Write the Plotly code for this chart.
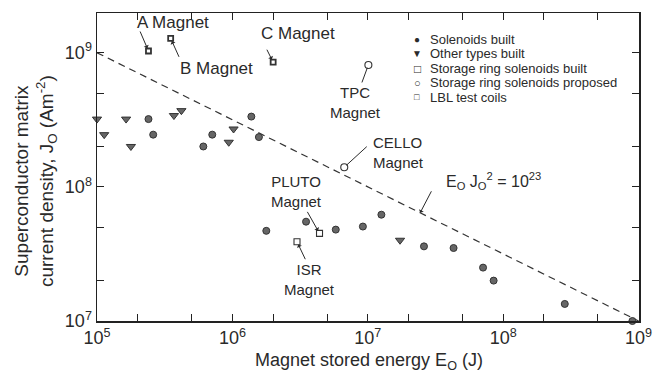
import numpy as np
import plotly.graph_objects as go

# ---------------- data ----------------
sol_E = [2.4e5, 2.6e5, 6.1e5, 7.1e5, 1.38e6, 1.57e6, 1.78e6, 3.5e6, 5.8e6,
         9.2e6, 1.26e7, 2.6e7, 4.3e7, 7.1e7, 8.5e7, 2.85e8, 9.0e8]
sol_J = [3.2e8, 2.45e8, 2.0e8, 2.45e8, 3.34e8, 2.35e8, 4.7e7, 5.5e7, 4.8e7,
         5.06e7, 6.2e7, 3.6e7, 3.5e7, 2.5e7, 2.0e7, 1.34e7, 1.0e7]

oth_E = [1.0e5, 1.13e5, 1.64e5, 1.78e5, 3.7e5, 4.2e5, 9.4e5, 1.02e6, 1.73e7]
oth_J = [3.2e8, 2.45e8, 3.2e8, 2.0e8, 3.4e8, 3.7e8, 2.15e8, 2.7e8, 4.0e7]

ring_names = ["PLUTO", "ISR"]
ring_E = [4.4e6, 3.0e6]
ring_J = [4.5e7, 3.9e7]

prop_names = ["TPC", "CELLO"]
prop_E = [1.01e7, 6.7e6]
prop_J = [8.1e8, 1.4e8]

lbl_names = ["A", "B", "C"]
lbl_E = [2.4e5, 3.5e5, 2.0e6]
lbl_J = [1.03e9, 1.28e9, 8.5e8]

line_const = 1e23            # E0 * J0^2 = 10^23
line_E = [1e5, 1e9]
line_J = [np.sqrt(line_const / e) for e in line_E]

x_decades = [5, 6, 7, 8, 9]
y_decades = [7, 8, 9]
minor_mult = [2, 5]

legend_labels = ["Solenoids built", "Other types built",
                 "Storage ring solenoids built",
                 "Storage ring solenoids proposed", "LBL test coils"]
legend_symbols = ["●", "▼", "□", "○", "<b>□</b>"]
legend_symbol_sizes = [10, 10, 12, 11, 9]

# ---------------- layout helpers ----------------
W, H = 663, 383
L, R, T, B = 97, 640, 11, 321
FONT = "Liberation Sans, Arial, sans-serif"
INK = "#2a2a2a"


def pxx(x):
    return (x - L) / (R - L)


def pxy(y):
    return (B - y) / (B - T)


major_x = [10.0 ** d for d in x_decades]
major_y = [10.0 ** d for d in y_decades]
minor_x = [m * 10.0 ** d for d in x_decades[:-1] for m in minor_mult]
minor_y = [m * 10.0 ** d for d in y_decades[:-1] for m in minor_mult] + [2e9]

fig = go.Figure()

fig.add_trace(go.Scatter(
    x=line_E, y=line_J, mode="lines", name="E0 J0^2 = 1e23",
    line=dict(color="#333", width=1.2, dash="7px,5px")))

fig.add_trace(go.Scatter(
    x=sol_E, y=sol_J, mode="markers", name=legend_labels[0], cliponaxis=False,
    marker=dict(symbol="circle", size=7, color="#666",
                line=dict(color="#333", width=1))))
fig.add_trace(go.Scatter(
    x=oth_E, y=oth_J, mode="markers", name=legend_labels[1], cliponaxis=False,
    marker=dict(symbol="triangle-down", size=8, color="#666",
                line=dict(color="#333", width=1))))
fig.add_trace(go.Scatter(
    x=ring_E, y=ring_J, mode="markers", name=legend_labels[2], text=ring_names,
    marker=dict(symbol="square-open", size=6, color="#333",
                line=dict(width=1.1))))
fig.add_trace(go.Scatter(
    x=prop_E, y=prop_J, mode="markers", name=legend_labels[3], text=prop_names,
    marker=dict(symbol="circle-open", size=7, color="#333",
                line=dict(width=1.1))))
fig.add_trace(go.Scatter(
    x=lbl_E, y=lbl_J, mode="markers", name=legend_labels[4], text=lbl_names,
    marker=dict(symbol="square-open", size=5, color="#333",
                line=dict(width=1.8))))

ann = []


def text(s, x, y, size=17, xanchor="center", align="center"):
    ann.append(dict(text=s, x=pxx(x), y=pxy(y), xref="paper", yref="paper",
                    showarrow=False, xanchor=xanchor, yanchor="middle",
                    align=align,
                    font=dict(family=FONT, size=size, color=INK)))


def arrow(xv_, yv_, ax, ay, head=1, standoff=3):
    ann.append(dict(text="", x=np.log10(xv_), y=np.log10(yv_), xref="x",
                    yref="y", showarrow=True, ax=ax, ay=ay, arrowhead=head,
                    arrowsize=0.9, arrowwidth=1, arrowcolor=INK,
                    standoff=standoff))


# labels
text("A Magnet", 173, 21)
text("B Magnet", 217, 67)
text("C Magnet", 298, 32)
text("TPC<br>Magnet", 356, 101, size=15)
text("CELLO<br>Magnet", 372, 151, size=15, xanchor="left", align="left")
text("PLUTO<br>Magnet", 297, 191, size=15)
text("ISR<br>Magnet", 310, 279, size=15)
text("E<sub>O</sub> J<sub>O</sub><sup>2</sup> = 10<sup>23</sup>", 445, 180,
     size=16, xanchor="left")

# leader lines / arrows
arrow(lbl_E[0], lbl_J[0], -9, -21)
arrow(lbl_E[1], lbl_J[1], 9, 20)
arrow(lbl_E[2], lbl_J[2], -7, -14)
arrow(prop_E[0], prop_J[0], -7, 19, head=0, standoff=3)
arrow(prop_E[1], prop_J[1], 24, -22, head=0, standoff=3)
arrow(ring_E[0], ring_J[0], -13, -23)
arrow(ring_E[1], ring_J[1], 9, 19)
xe = 10 ** (5 + (421 - L) / 135.75)
arrow(xe, np.sqrt(line_const / xe), 12, -23, standoff=0)

# legend (manual, to keep the tight row spacing)
rows_y = [38, 52, 67, 81, 96]
for sym, ss, lab, yy in zip(legend_symbols, legend_symbol_sizes,
                            legend_labels, rows_y):
    text(sym, 418, yy, size=ss)
    text(lab, 429, yy, size=13, xanchor="left")

# axis titles
ann.append(dict(text="Superconductor matrix<br>current density, J<sub>O</sub> (Am<sup>-2</sup>)",
                x=pxx(36), y=pxy(180), xref="paper", yref="paper",
                showarrow=False, textangle=-90, xanchor="center",
                yanchor="middle",
                font=dict(family=FONT, size=19, color=INK)))
ann.append(dict(text="Magnet stored energy E<sub>O</sub> (J)",
                x=pxx(370), y=pxy(362), xref="paper", yref="paper",
                showarrow=False, xanchor="center", yanchor="middle",
                font=dict(family=FONT, size=18, color=INK)))

tick_style = dict(ticks="inside", ticklen=7, tickwidth=1, tickcolor="#222")
axis_common = dict(type="log", showgrid=False, zeroline=False,
                   showline=True, linecolor="#222", linewidth=1.5,
                   mirror="ticks", tickmode="array",
                   tickfont=dict(family=FONT, size=18, color=INK),
                   **tick_style)

fig.update_xaxes(range=[5, 9.003], tickvals=major_x,
                 ticktext=["10<sup>%d</sup>" % d for d in x_decades],
                 minor=dict(tickmode="array", tickvals=minor_x,
                            showgrid=False, **tick_style),
                 **axis_common)
fig.update_yaxes(range=[7, 9.296], tickvals=major_y,
                 ticktext=["10<sup>%d</sup>" % d for d in y_decades],
                 minor=dict(tickmode="array", tickvals=minor_y,
                            showgrid=False, **tick_style),
                 **axis_common)

fig.update_layout(
    width=W, height=H, autosize=False,
    margin=dict(l=L, r=W - R, t=T, b=H - B, pad=0),
    paper_bgcolor="white", plot_bgcolor="white",
    showlegend=False, annotations=ann,
    font=dict(family=FONT, color=INK))

fig.write_html("out.html",
               config={"displayModeBar": False, "staticPlot": True},
               post_script="document.body.style.margin='0';"
                           "document.body.style.overflow='hidden';")
